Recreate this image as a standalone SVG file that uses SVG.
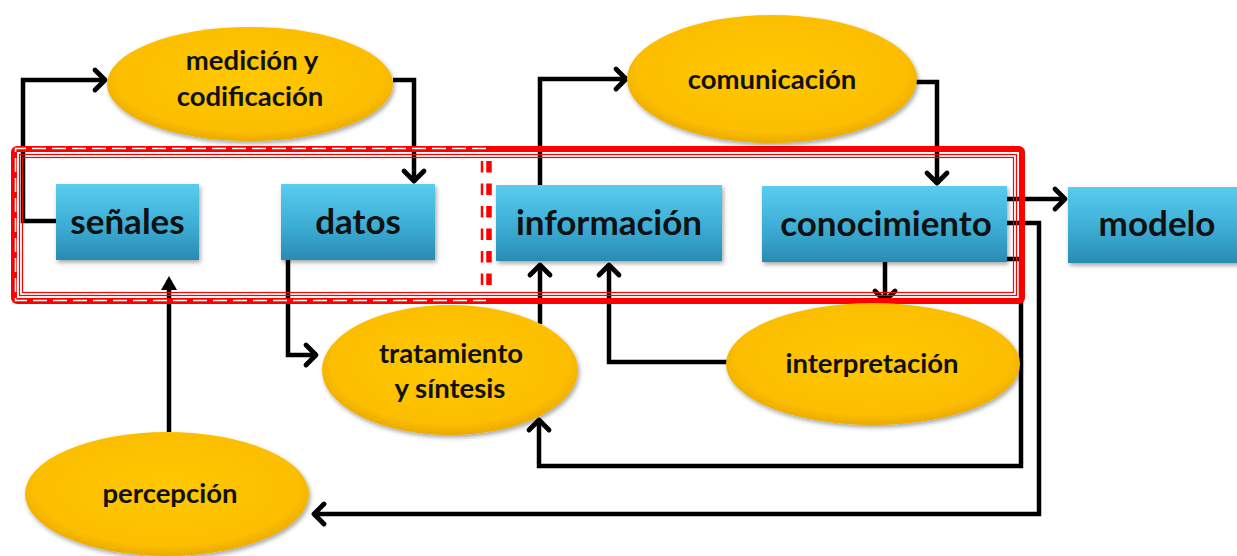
<svg xmlns="http://www.w3.org/2000/svg" width="1237" height="556" viewBox="0 0 1237 556">
<defs>
<linearGradient id="boxg" x1="0" y1="0" x2="0" y2="1">
<stop offset="0" stop-color="#5ACCEE"/>
<stop offset="0.55" stop-color="#3CADD5"/>
<stop offset="1" stop-color="#2A8BB2"/>
</linearGradient>
<radialGradient id="ellg" cx="0.5" cy="0.45" r="0.55">
<stop offset="0" stop-color="#FFC800"/>
<stop offset="0.85" stop-color="#FBBE00"/>
<stop offset="1" stop-color="#EBAA00"/>
</radialGradient>
<filter id="sh" x="-10%" y="-10%" width="125%" height="130%">
<feDropShadow dx="1.5" dy="2.5" stdDeviation="2" flood-color="#000" flood-opacity="0.35"/>
</filter>
<marker id="arr" markerUnits="userSpaceOnUse" markerWidth="30" markerHeight="30" viewBox="-15 -15 30 30" refX="0" refY="0" orient="auto" overflow="visible">
<path d="M-11,-10 L-1,0 L-11,10" fill="none" stroke="#000" stroke-width="4.8" stroke-linecap="round" stroke-linejoin="round"/>
</marker>
<marker id="tri" markerUnits="userSpaceOnUse" markerWidth="30" markerHeight="30" viewBox="-15 -15 30 30" refX="0" refY="0" orient="auto" overflow="visible">
<path d="M-10,-8 L4,0 L-10,8 Z" fill="#000"/>
</marker>
<style>
.box{fill:url(#boxg);filter:url(#sh);}
.ell{fill:url(#ellg);filter:url(#sh);}
.bt{font-family:Lato,"Liberation Sans",sans-serif;font-weight:700;font-size:35px;fill:#111;text-anchor:middle;}
.et{font-family:Lato,"Liberation Sans",sans-serif;font-weight:700;font-size:27.5px;fill:#111;text-anchor:middle;}
.c{fill:none;stroke:#000;stroke-width:4.5;stroke-linejoin:miter;}
.a{marker-end:url(#arr);}
</style>
</defs>
<rect width="1237" height="556" fill="#fff"/>

<g id="connectors">
<path class="c a" d="M57,221 H23 V80 H106"/>
<path class="c a" d="M393,80 H414 V182"/>
<path class="c a" d="M288,260 V355 H317"/>
<path class="c a" d="M540,185 V79 H627"/>
<path class="c a" d="M915,82 H937 V184"/>
<path class="c a" d="M540,324 V264"/>
<path class="c a" d="M727,362 H609 V264"/>
<path class="c a" d="M885,262 V302"/>
<path class="c a" d="M1005,199 H1066"/>
<path class="c a" d="M1005,223 H1039 V514 H313"/>
<path class="c a" d="M1005,259 H1021 V466 H539 V419"/>
<path class="c" d="M169,432 V280" marker-end="url(#tri)"/>
</g>

<g id="frame-solid">
<rect x="14" y="149" width="1008" height="152" rx="3" fill="none" stroke="#F00" stroke-width="6"/>
<rect x="19.5" y="154.5" width="997" height="141" fill="none" stroke="#F00" stroke-width="1.2"/>
<rect x="22.5" y="157.5" width="991" height="135" fill="none" stroke="#F00" stroke-width="1.2"/>
</g>

<g id="frame-dashed">
<path d="M486,148.5 H15.5 V300.5 H486" fill="none" stroke="#fff" stroke-width="1.6" stroke-dasharray="14 6"/>
<line x1="482" y1="161" x2="482" y2="292" stroke="#F00" stroke-width="2.5" stroke-dasharray="11.5 11"/>
<line x1="489" y1="161" x2="489" y2="292" stroke="#F00" stroke-width="5.5" stroke-dasharray="11.5 11"/>
</g>

<g id="n-senales">
<rect class="box" x="56" y="184" width="143" height="76"/>
<text class="bt" x="127.5" y="234">señales</text>
</g>
<g id="n-datos">
<rect class="box" x="281" y="184" width="154" height="76"/>
<text class="bt" x="358" y="234">datos</text>
</g>
<g id="n-informacion">
<rect class="box" x="496" y="185" width="226" height="76"/>
<text class="bt" x="609" y="235">información</text>
</g>
<g id="n-conocimiento">
<rect class="box" x="762" y="186" width="245" height="76"/>
<text class="bt" x="886" y="236">conocimiento</text>
</g>
<g id="n-modelo">
<rect class="box" x="1068" y="187" width="175" height="76"/>
<text class="bt" x="1157" y="236">modelo</text>
</g>

<g id="n-medicion">
<ellipse class="ell" cx="250" cy="84" rx="143" ry="57"/>
<text class="et" x="252" y="70">medición y</text>
<text class="et" x="250" y="106">codificación</text>
</g>
<g id="n-comunicacion">
<ellipse class="ell" cx="772" cy="79" rx="145" ry="64"/>
<text class="et" x="772" y="89">comunicación</text>
</g>
<g id="n-tratamiento">
<ellipse class="ell" cx="450" cy="370" rx="128" ry="65"/>
<text class="et" x="451" y="363">tratamiento</text>
<text class="et" x="450" y="398">y síntesis</text>
</g>
<g id="n-interpretacion">
<ellipse class="ell" cx="873" cy="364" rx="147" ry="61"/>
<text class="et" x="872" y="373">interpretación</text>
</g>
<g id="n-percepcion">
<ellipse class="ell" cx="167" cy="494" rx="142" ry="62"/>
<text class="et" x="170" y="503">percepción</text>
</g>
</svg>
